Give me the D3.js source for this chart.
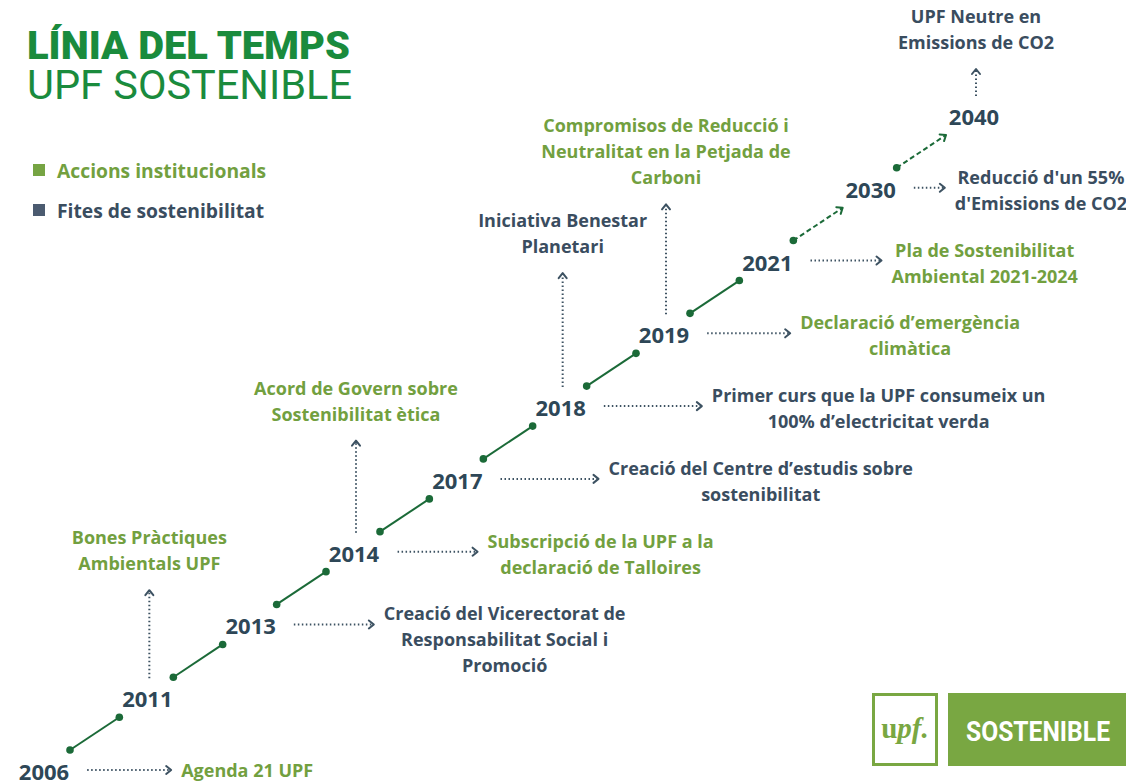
<!DOCTYPE html>
<html>
<head>
<meta charset="utf-8">
<script src="https://cdn.jsdelivr.net/npm/d3@7"></script>
<style>
  html, body { margin: 0; padding: 0; background: #ffffff; }
  svg { display: block; font-family: "Open Sans", sans-serif; }
</style>
</head>
<body>
<div id="chart"></div>
<script>
// Timeline years (evenly spaced along the diagonal)
const years = ["2006", "2011", "2013", "2014", "2017", "2018", "2019", "2021", "2030", "2040"];
// Year from which the line becomes a projection (dashed)
const projectedFrom = "2021";

// Events pointing to the right of a year
const rightYears = ["2006", "2013", "2014", "2017", "2018", "2019", "2021", "2030"];
const rightTypes = ["accio", "fita", "accio", "fita", "fita", "accio", "accio", "fita"];
const rightLabels = [
  ["Agenda 21 UPF"],
  ["Creació del Vicerectorat de", "Responsabilitat Social i", "Promoció"],
  ["Subscripció de la UPF a la", "declaració de Talloires"],
  ["Creació del Centre d’estudis sobre", "sostenibilitat"],
  ["Primer curs que la UPF consumeix un", "100% d’electricitat verda"],
  ["Declaració d’emergència", "climàtica"],
  ["Pla de Sostenibilitat", "Ambiental 2021-2024"],
  ["Reducció d'un 55%", "d'Emissions de CO2"]
];

// Events pointing up from a year
const upYears = ["2011", "2014", "2018", "2019", "2040"];
const upTypes = ["accio", "accio", "fita", "accio", "fita"];
const upLabels = [
  ["Bones Pràctiques", "Ambientals UPF"],
  ["Acord de Govern sobre", "Sostenibilitat ètica"],
  ["Iniciativa Benestar", "Planetari"],
  ["Compromisos de Reducció i", "Neutralitat en la Petjada de", "Carboni"],
  ["UPF Neutre en", "Emissions de CO2"]
];

const legendKeys = ["accio", "fita"];
const legendLabels = ["Accions institucionals", "Fites de sostenibilitat"];

// ---- layout / style ----
const width = 1126, height = 781;
const rightArrowLen = [84, 80, 80, 98, 98, 83, 71, 31];
const upArrowLen = [88, 92, 114, 110, 27];

const color = d3.scaleOrdinal()
  .domain(["accio", "fita"])
  .range(["#72a03f", "#3a4d5f"]);
const legendColor = d3.scaleOrdinal()
  .domain(["accio", "fita"])
  .range(["#76a443", "#4b5b70"]);
const yearColor = "#2e4757";
const lineColor = "#1b6a38";
const arrowColor = "#3d5262";

const x = d3.scalePoint().domain(years).range([44, 974]);
const y = d3.scalePoint().domain(years).range([771, 116]);

const svg = d3.select("#chart").append("svg")
  .attr("width", width)
  .attr("height", height);

// ---- title ----
svg.append("text")
  .attr("x", 27).attr("y", 59)
  .attr("textLength", 323).attr("lengthAdjust", "spacingAndGlyphs")
  .style("font-family", "Roboto, sans-serif")
  .style("font-weight", 900)
  .style("font-size", "39px")
  .style("fill", "#1a8b3d")
  .text("LÍNIA DEL TEMPS");
svg.append("text")
  .attr("x", 27).attr("y", 99)
  .attr("textLength", 325).attr("lengthAdjust", "spacingAndGlyphs")
  .style("font-family", "Roboto, sans-serif")
  .style("font-weight", 400)
  .style("font-size", "41px")
  .style("fill", "#1a8b3d")
  .text("UPF SOSTENIBLE");

// ---- legend ----
const legend = svg.append("g").selectAll("g")
  .data(legendKeys)
  .enter().append("g")
  .attr("transform", (d, i) => `translate(33, ${170 + i * 40})`);
legend.append("rect")
  .attr("x", 0).attr("y", -6)
  .attr("width", 12).attr("height", 12)
  .attr("fill", d => legendColor(d));
legend.append("text")
  .attr("x", 24).attr("y", 0)
  .attr("dominant-baseline", "central")
  .style("font-size", "19.3px")
  .style("font-weight", 700)
  .style("fill", d => color(d))
  .text((d, i) => legendLabels[i]);

// ---- arrowhead helper ----
function chevron(g, px, py, angle, stroke) {
  g.append("path")
    .attr("d", "M-5,-4 L0,0 L-5,4")
    .attr("transform", `translate(${px},${py}) rotate(${angle})`)
    .attr("fill", "none")
    .attr("stroke", stroke)
    .attr("stroke-width", 2)
    .attr("stroke-linecap", "round")
    .attr("stroke-linejoin", "round");
}

// ---- timeline segments ----
const segs = svg.append("g").attr("class", "segments");
d3.pairs(years).forEach(([a, b]) => {
  const x1 = x(a) + 26, y1 = y(a) - 21;
  const x2 = x(b) - 28, y2 = y(b) + 19;
  const projected = years.indexOf(a) >= years.indexOf(projectedFrom);
  segs.append("line")
    .attr("x1", x1).attr("y1", y1)
    .attr("x2", x2).attr("y2", y2)
    .attr("stroke", lineColor)
    .attr("stroke-width", 2)
    .attr("stroke-dasharray", projected ? "5,3" : null);
  segs.append("circle").attr("cx", x1).attr("cy", y1).attr("r", 3.8).attr("fill", lineColor);
  if (projected) {
    const ang = Math.atan2(y2 - y1, x2 - x1) * 180 / Math.PI;
    chevron(segs, x2, y2, ang, lineColor);
  } else {
    segs.append("circle").attr("cx", x2).attr("cy", y2).attr("r", 3.8).attr("fill", lineColor);
  }
});

// ---- year labels ----
const yearLabels = svg.append("g").selectAll("text")
  .data(years)
  .enter().append("text")
  .attr("x", d => x(d))
  .attr("y", d => y(d))
  .attr("text-anchor", "middle")
  .attr("dominant-baseline", "central")
  .style("font-size", "22px")
  .style("font-weight", 700)
  .style("fill", yearColor)
  .text(d => d);

const labelRight = {};
yearLabels.each(function(d) { const b = this.getBBox(); labelRight[d] = b.x + b.width; });

// ---- right-pointing events ----
const lineH = 26;
rightYears.forEach((yr, i) => {
  const g = svg.append("g");
  const ay = y(yr) - 1;
  const ax1 = labelRight[yr] + 18, ax2 = ax1 + rightArrowLen[i];
  g.append("line")
    .attr("x1", ax1).attr("y1", ay).attr("x2", ax2 - 1).attr("y2", ay)
    .attr("stroke", arrowColor)
    .attr("stroke-width", 2)
    .attr("stroke-dasharray", "1.5,2.5");
  chevron(g, ax2, ay, 0, arrowColor);

  const lines = rightLabels[i];
  const t = g.append("text")
    .style("font-size", "18px")
    .style("font-weight", 700)
    .style("fill", color(rightTypes[i]));
  const tsp = t.selectAll("tspan").data(lines).enter().append("tspan")
    .attr("dominant-baseline", "central")
    .text(d => d);
  let maxW = 0;
  tsp.each(function() { maxW = Math.max(maxW, this.getComputedTextLength()); });
  const cx = ax2 + 10 + maxW / 2;
  const top = lines.length > 1 ? ay - 11 : ay;
  tsp.attr("x", cx)
    .attr("y", (d, j) => top + j * lineH)
    .attr("text-anchor", "middle");
});

// ---- up-pointing events ----
upYears.forEach((yr, i) => {
  const g = svg.append("g");
  const ax = x(yr) + 2;
  const ay1 = y(yr) - 20, ay2 = ay1 - upArrowLen[i];
  g.append("line")
    .attr("x1", ax).attr("y1", ay1).attr("x2", ax).attr("y2", ay2 + 1)
    .attr("stroke", arrowColor)
    .attr("stroke-width", 2)
    .attr("stroke-dasharray", "1.5,2.5");
  chevron(g, ax, ay2, -90, arrowColor);

  const lines = upLabels[i];
  const last = ay2 - 27;
  svg.append("text")
    .style("font-size", "18px")
    .style("font-weight", 700)
    .style("fill", color(upTypes[i]))
    .selectAll("tspan").data(lines).enter().append("tspan")
    .attr("x", ax)
    .attr("y", (d, j) => last - (lines.length - 1 - j) * lineH)
    .attr("text-anchor", "middle")
    .attr("dominant-baseline", "central")
    .text(d => d);
});

// ---- logo ----
const logo = svg.append("g");
logo.append("rect")
  .attr("x", 873.5).attr("y", 694.5)
  .attr("width", 63).attr("height", 70)
  .attr("fill", "#ffffff")
  .attr("stroke", "#79a742")
  .attr("stroke-width", 3);
const upf = logo.append("text")
  .attr("x", 905).attr("y", 738)
  .attr("text-anchor", "middle")
  .style("font-family", "'Liberation Serif', serif")
  .style("font-weight", 700)
  .style("font-size", "29px")
  .style("fill", "#79a742");
upf.append("tspan").text("u");
upf.append("tspan").style("font-style", "italic").text("pf.");
logo.append("rect")
  .attr("x", 948).attr("y", 693)
  .attr("width", 178).attr("height", 73)
  .attr("fill", "#79a742");
logo.append("text")
  .attr("x", 966).attr("y", 741)
  .attr("textLength", 144).attr("lengthAdjust", "spacingAndGlyphs")
  .style("font-family", "Roboto, sans-serif")
  .style("font-weight", 700)
  .style("font-size", "28px")
  .style("fill", "#ffffff")
  .text("SOSTENIBLE");
</script>
</body>
</html>
